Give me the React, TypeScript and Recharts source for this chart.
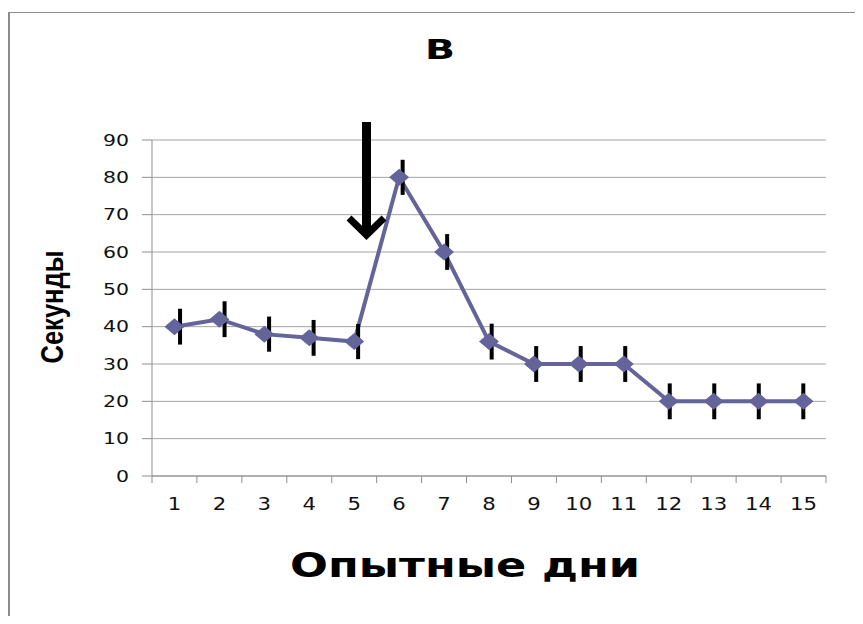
import React from "react";
import { CartesianGrid, ErrorBar, Line, LineChart, XAxis, YAxis } from "recharts";

const days = [1, 2, 3, 4, 5, 6, 7, 8, 9, 10, 11, 12, 13, 14, 15];
const seconds = [40, 42, 38, 37, 36, 80, 60, 36, 30, 30, 30, 20, 20, 20, 20];
const errors = [4.8, 4.8, 4.7, 4.8, 4.7, 4.7, 4.8, 4.8, 4.8, 4.8, 4.8, 4.8, 4.8, 4.8, 4.8];
const yTicks = [0, 10, 20, 30, 40, 50, 60, 70, 80, 90];

const data = days.map((day, i) => ({ day, sec: seconds[i], err: errors[i] }));
// tick marks sit between the days, not under them
const dayEdges = [0.5, ...days.map((d) => d + 0.5)];

const LINE = "#64649b";
const AXIS = "#8e8e8e";
const FONT = "'DejaVu Sans', Verdana, sans-serif";

function Diamond(props: any) {
  const { cx, cy, index } = props;
  if (cx == null || cy == null) return null;
  return (
    <polygon
      key={index}
      points={`${cx - 10},${cy} ${cx},${cy - 8.5} ${cx + 10},${cy} ${cx},${cy + 8.5}`}
      fill={LINE}
    />
  );
}

function NoTick() {
  return <g />;
}

function YTick(props: any) {
  const { x, y, payload } = props;
  const s = String(payload.value);
  return (
    <text
      x={x}
      y={y}
      dy="0.36em"
      textAnchor="end"
      fontFamily={FONT}
      fontSize={16}
      fill="#111"
      textLength={s.length * 13}
      lengthAdjust="spacingAndGlyphs"
    >
      {s}
    </text>
  );
}

function XTick(props: any) {
  const { x, y, payload } = props;
  const s = String(payload.value);
  return (
    <text
      x={x}
      y={y}
      dy="0.71em"
      textAnchor="middle"
      fontFamily={FONT}
      fontSize={17}
      fill="#111"
      textLength={s.length * 13.5}
      lengthAdjust="spacingAndGlyphs"
    >
      {s}
    </text>
  );
}

export default function App() {
  return (
    <div style={{ position: "relative", width: 847, height: 608, overflow: "hidden", background: "#fff" }}>
      <div
        style={{
          position: "absolute",
          left: 0,
          top: 4,
          width: 1000,
          height: 1000,
          borderLeft: "2px solid #8c8c8c",
          borderTop: "1px solid #8c8c8c",
        }}
      />
      <div style={{ position: "absolute", left: 0, top: 0 }}>
        <LineChart
          width={847}
          height={600}
          data={data}
          margin={{ top: 132, right: 29, bottom: 101, left: 64 }}
        >
          <CartesianGrid vertical={false} stroke="#a3a3a3" xAxisId="label" />
          <XAxis
            xAxisId="edge"
            type="number"
            dataKey="day"
            domain={[0.5, 15.5]}
            ticks={dayEdges}
            interval={0}
            tick={NoTick}
            tickSize={7}
            height={1}
            stroke={AXIS}
          />
          <XAxis
            xAxisId="label"
            dataKey="day"
            type="category"
            scale="band"
            axisLine={false}
            tickLine={false}
            tickSize={6}
            tickMargin={15}
            height={30}
            interval={0}
            tick={<XTick />}
          />
          <XAxis
            xAxisId="whisker"
            orientation="top"
            type="number"
            dataKey="day"
            domain={[0.37, 15.51]}
            hide
          />
          <YAxis
            domain={[0, 90]}
            ticks={yTicks}
            interval={0}
            width={80}
            tickSize={10}
            tickMargin={13}
            stroke={AXIS}
            tick={<YTick />}
          />
          <Line
            xAxisId="label"
            dataKey="sec"
            stroke={LINE}
            strokeWidth={4}
            dot={Diamond}
            activeDot={false}
            isAnimationActive={false}
          />
          <Line
            xAxisId="whisker"
            dataKey="sec"
            stroke="none"
            dot={false}
            activeDot={false}
            legendType="none"
            isAnimationActive={false}
          >
            <ErrorBar dataKey="err" direction="y" width={0} stroke="#000" strokeWidth={4} />
          </Line>
        </LineChart>
      </div>
      <svg width={847} height={608} style={{ position: "absolute", left: 0, top: 0, pointerEvents: "none" }}>
        <text
          x={432}
          y={51}
          textAnchor="middle"
          fontFamily={FONT}
          fontWeight="bold"
          fontSize={26}
          textLength={30}
          lengthAdjust="spacingAndGlyphs"
        >
          В
        </text>
        <text
          transform="translate(55,299) rotate(-90)"
          textAnchor="middle"
          fontFamily="'Liberation Sans Narrow', 'Arial Narrow', sans-serif"
          fontWeight="bold"
          fontSize={32}
          textLength={113}
          lengthAdjust="spacingAndGlyphs"
        >
          Секунды
        </text>
        <text
          x={457}
          y={569}
          textAnchor="middle"
          fontFamily={FONT}
          fontWeight="bold"
          fontSize={33}
          textLength={350}
          lengthAdjust="spacingAndGlyphs"
        >
          Опытные дни
        </text>
        {/* arrow marking the day of the change */}
        <rect x={354} y={114} width={9} height={110} fill="#000" />
        <polyline
          points="341,210 358.5,227 376,210"
          fill="none"
          stroke="#000"
          strokeWidth={7}
          strokeLinejoin="miter"
        />
      </svg>
    </div>
  );
}
